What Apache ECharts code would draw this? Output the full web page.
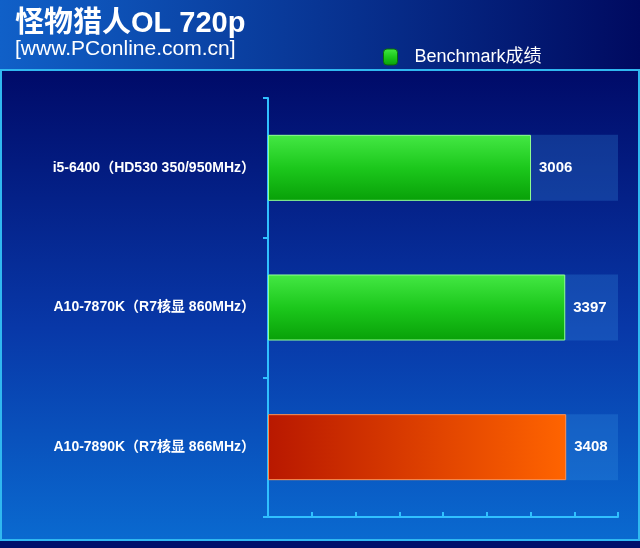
<!DOCTYPE html><html><head><meta charset="utf-8"><script src="https://cdn.jsdelivr.net/npm/echarts@6/dist/echarts.min.js"></script>
<style>html,body{margin:0;padding:0;background:#00106a}#c{width:640px;height:548px}</style></head><body><div id="c"></div><script>
const categories=['A10-7890K（R7核显 866MHz）','A10-7870K（R7核显 860MHz）','i5-6400（HD530 350/950MHz）'];
const values=[3408,3397,3006];
const xTicks=[0,500,1000,1500,2000,2500,3000,3500,4000];
const FF='"Liberation Sans", "Noto Sans CJK SC", sans-serif';
const green={type:'linear',x:0,y:0,x2:0,y2:1,colorStops:[{offset:0,color:'#44e844'},{offset:0.5,color:'#1cc81c'},{offset:1,color:'#08a008'}]};
const orange={type:'linear',x:0,y:0,x2:1,y2:0,colorStops:[{offset:0,color:'#b81800'},{offset:1,color:'#ff6400'}]};
const chart=echarts.init(document.getElementById('c'));
chart.setOption({
 animation:false,
 graphic:[
  {type:'rect',z:-10,shape:{x:0,y:0,width:640,height:70},style:{fill:{type:'linear',x:0,y:0,x2:1,y2:0,colorStops:[{offset:0,color:'#1060c8'},{offset:1,color:'#000a60'}]}}},
  {type:'rect',z:-10,shape:{x:1,y:70,width:638,height:470},style:{stroke:'#30b8f0',lineWidth:2,fill:{type:'linear',x:0,y:0,x2:0,y2:1,colorStops:[{offset:0,color:'#000a68'},{offset:0.55,color:'#0838a8'},{offset:1,color:'#0a6ad0'}]}}},
  {type:'text',left:15,top:9,style:{text:'怪物猎人OL 720p',fill:'#fff',font:'bold 29px '+FF}},
  {type:'text',left:15,top:39,style:{text:'[www.PConline.com.cn]',fill:'#fff',font:'21px "Liberation Sans", sans-serif'}}
 ],
 legend:{data:['Benchmark成绩'],left:378,top:43,itemWidth:14,itemHeight:16,itemStyle:{borderColor:'#0a6a0a',borderWidth:1},
  textStyle:{color:'#fff',fontSize:18,fontFamily:FF,padding:[0,0,0,12]}},
 grid:{left:268,right:22,top:98,bottom:31,containLabel:false},
 xAxis:{type:'value',min:0,max:4000,interval:500,axisLabel:{show:false},splitLine:{show:false},
  axisLine:{show:true,lineStyle:{color:'#30c0ff',width:2}},axisTick:{show:true,length:5,inside:true,lineStyle:{color:'#30c0ff',width:2}}},
 yAxis:{type:'category',data:categories,axisLine:{lineStyle:{color:'#30c0ff',width:2}},axisTick:{show:true,length:5,lineStyle:{color:'#30c0ff',width:2}},
  axisLabel:{color:'#fff',fontWeight:'bold',fontSize:14,margin:13,fontFamily:FF}},
 series:[{name:'Benchmark成绩',type:'bar',barWidth:66,
  itemStyle:{color:green,borderColor:'#90ff90',borderWidth:1},
  showBackground:true,backgroundStyle:{color:'rgba(60,150,230,0.25)'},
  label:{show:true,position:'right',color:'#fff',fontWeight:'bold',fontSize:15,distance:8,fontFamily:FF},
  data:values.map((v,i)=>i===0?{value:v,itemStyle:{color:orange,borderColor:'#ff9050'}}:v)}]
});
</script></body></html>
